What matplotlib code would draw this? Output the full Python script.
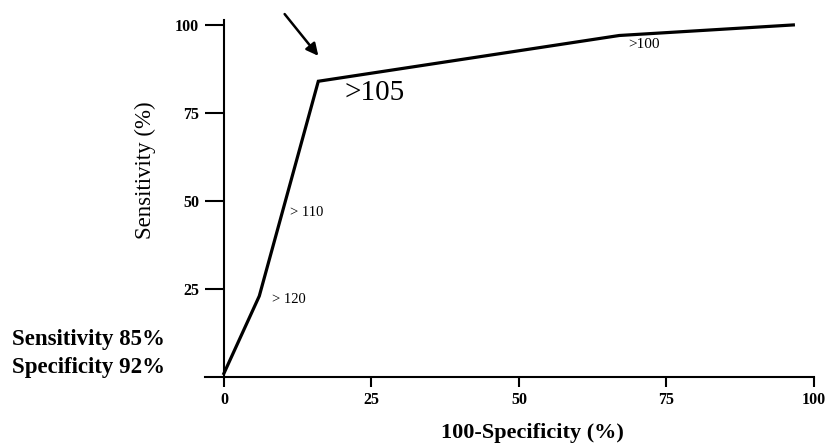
import matplotlib.pyplot as plt

# ROC curve points (100-specificity vs sensitivity)
fpr = [0, 6, 16, 67, 96.5]
sens = [1, 23, 84, 97, 100]

# cut-off labels
cut_labels = ['> 120', '> 110', '>105', '>100']
cut_pos = [(8.1, 21.9), (11.2, 46.6), (20.5, 80.7), (68.5, 94.3)]
cut_sizes = [10.5, 10.5, 21, 11]

ticks = [0, 25, 50, 75, 100]

plt.rcParams['font.family'] = ['Liberation Serif', 'DejaVu Serif']

W, H = 830, 446
fig = plt.figure(figsize=(W / 100, H / 100), dpi=100)
ax = fig.add_axes([205 / W, 69 / H, 609 / W, 357 / H])

ax.plot(fpr, sens, color='black', lw=2.3, solid_joinstyle='miter', clip_on=False)

ax.set_xlim(-3.2, 100)
ax.set_ylim(0, 101.4)

ax.spines['top'].set_visible(False)
ax.spines['right'].set_visible(False)
ax.spines['left'].set_position(('data', 0))
for s in ['left', 'bottom']:
    ax.spines[s].set_linewidth(1.5)

ax.set_xticks(ticks)
ax.set_xticklabels([str(t) for t in ticks], fontweight='bold', fontsize=11.5)
ax.set_yticks(ticks[1:])
ax.set_yticklabels([str(t) for t in ticks[1:]], fontweight='bold', fontsize=11.5)
ax.tick_params(axis='x', length=7, width=1.5, pad=4)
ax.tick_params(axis='y', length=14, width=1.5, pad=4)
for lab in ax.get_xticklabels() + ax.get_yticklabels():
    lab.set_clip_on(False)

ax.set_xlabel('100-Specificity (%)', fontsize=16, fontweight='bold', va='center')
ax.xaxis.set_label_coords(0.537, -0.157)
ax.set_ylabel('Sensitivity (%)', fontsize=16.5, va='center')
ax.yaxis.set_label_coords(-0.0985, 0.58)

for lab, (x, y), fs in zip(cut_labels, cut_pos, cut_sizes):
    ax.text(x, y, lab, fontsize=fs, ha='left', va='center', clip_on=False)

ax.annotate('', xy=(16.3, 90.6), xytext=(10, 103.7), annotation_clip=False,
            arrowprops=dict(arrowstyle='-|>', color='black', lw=1.8, mutation_scale=18))

fig.text(12 / W, 1 - 340 / H, 'Sensitivity 85%', fontsize=16.5, fontweight='bold', va='center')
fig.text(12 / W, 1 - 367 / H, 'Specificity 92%', fontsize=16.5, fontweight='bold', va='center')

fig.savefig('out.png', dpi=100)
